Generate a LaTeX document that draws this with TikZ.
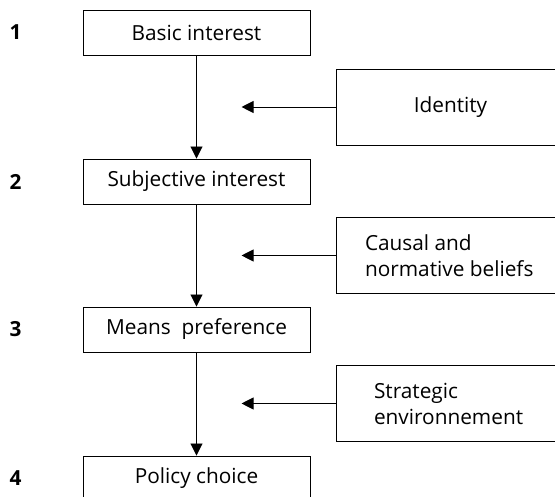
\documentclass[tikz,border=0pt]{standalone}
\usepackage{fontspec}
\setmainfont{Open Sans}
\usetikzlibrary{positioning,arrows.meta}
\begin{document}
\begin{tikzpicture}[
        boxsty/.style={
            draw, rectangle, minimum width=5.675cm, minimum height=1.125cm, inner sep=0pt,
        },
        factsty/.style={
            draw, rectangle, minimum width=5.725cm, minimum height=1.9cm, inner sep=0pt,
        },
        numsty/.style={
            font=\fontsize{14.8}{17}\selectfont\bfseries,
        },
        arrsty/.style={
            -{Triangle[length=0.3cm,width=0.3cm]}
        },
        font=\fontsize{14.8}{18.5}\selectfont, line width=0.65pt
    ]
    \clip (0,0) rectangle (13.875,-12.425);

    \node[boxsty] at (4.9125,-0.8125) (basic) {Basic interest};
    \node[boxsty] at (4.9125,-4.5375) (subj) {Subjective interest};
    \node[boxsty] at (4.9125,-8.2375) (means) {Means\ \ preference};
    \node[boxsty] at (4.9125,-11.9625) (policy) {Policy choice};
    \foreach \n/\b in {1/basic,2/subj,3/means,4/policy}{
        \node[numsty] at ([xshift=-1.675cm]\b.west) (num\n) {\n};
    }

    \node[factsty] at (11.2625,-2.675) (ident) {Identity};
    \node[factsty] at (11.2625,-6.3875) (causal) {};
    \node[anchor=west, align=left, inner sep=0pt] at ([xshift=0.725cm]causal.west) (causaltxt) {Causal and\\normative beliefs};
    \node[factsty] at (11.2625,-10.0875) (strat) {};
    \node[anchor=west, align=left, inner sep=0pt] at ([xshift=0.95cm]strat.west) (strattxt) {Strategic\\environnement};

    \coordinate[left=2.35cm of ident.west] (identend);
    \coordinate[left=2.35cm of causal.west] (causalend);
    \coordinate[left=2.35cm of strat.west] (stratend);

    \draw[arrsty] (basic) -- (subj);
    \draw[arrsty] (subj) -- (means);
    \draw[arrsty] (means) -- (policy);
    \draw[arrsty] (ident) -- (identend);
    \draw[arrsty] (causal) -- (causalend);
    \draw[arrsty] (strat) -- (stratend);

\end{tikzpicture}
\end{document}
